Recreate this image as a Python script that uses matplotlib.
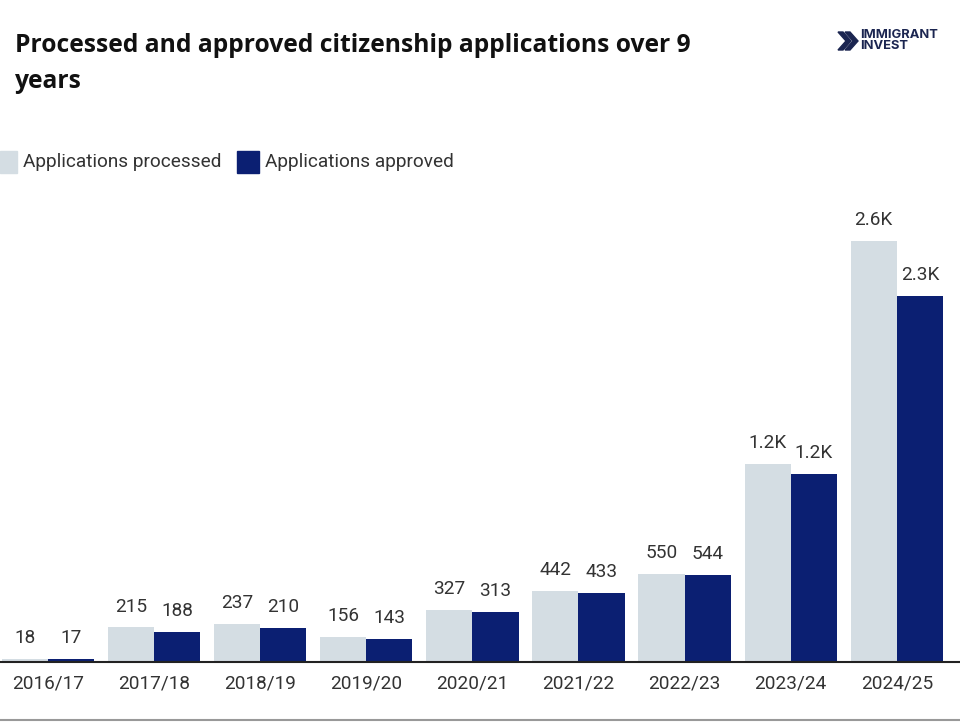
import numpy as np
import matplotlib.pyplot as plt
from matplotlib.patches import Rectangle, Polygon

# veriler
years = ["2016/17", "2017/18", "2018/19", "2019/20", "2020/21",
         "2021/22", "2022/23", "2023/24", "2024/25"]
processed = [18, 215, 237, 156, 327, 442, 550, 1245, 2645]
approved = [17, 188, 210, 143, 313, 433, 544, 1180, 2300]

c_proc = "#D4DDE3"
c_appr = "#0B1F72"
txt = "#333333"

plt.rcParams['font.family'] = ['Roboto', 'DejaVu Sans']

fig = plt.figure(figsize=(9.6, 7.22), dpi=100)
ax = fig.add_axes([0, 1 - 661.5 / 722, 1, (661.5 - 200) / 722])

x = np.arange(len(years))
w = 0.435
b1 = ax.bar(x - w / 2, processed, w, color=c_proc)
b2 = ax.bar(x + w / 2, approved, w, color=c_appr)


def fmt(v):
    return f"{v / 1000:.1f}K" if v >= 1000 else str(v)


for bars, vals in ((b1, processed), (b2, approved)):
    for b, v in zip(bars, vals):
        ax.annotate(fmt(v), (b.get_x() + b.get_width() / 2, v),
                    xytext=(0, 8.5), textcoords="offset points",
                    ha="center", va="bottom", fontsize=13.7, color=txt)

ax.set_xlim(-0.452, 8.596)
ax.set_ylim(0, 461.5 * 6.29)
ax.set_xticks(x)
ax.set_xticklabels(years, fontsize=13.7, color=txt)
ax.tick_params(axis="x", length=0, pad=9)
ax.set_yticks([])
for s in ("top", "right", "left"):
    ax.spines[s].set_visible(False)
ax.spines["bottom"].set_color("#222222")
ax.spines["bottom"].set_linewidth(1.5)

# baslik
fig.text(15 / 960, 1 - 45 / 722, "Processed and approved citizenship applications over 9",
         fontsize=17.7, fontweight="bold", color="#111111", va="center",
         family=["Open Sans", "DejaVu Sans"])
fig.text(15 / 960, 1 - 81 / 722, "years",
         fontsize=17.7, fontweight="bold", color="#111111", va="center",
         family=["Open Sans", "DejaVu Sans"])

# lejant
fig.add_artist(Rectangle((0, 1 - 173 / 722), 17 / 960, 22 / 722,
                         transform=fig.transFigure, color=c_proc))
fig.text(23 / 960, 1 - 162 / 722, "Applications processed", fontsize=13.7,
         color=txt, va="center")
fig.add_artist(Rectangle((237 / 960, 1 - 173 / 722), 22 / 960, 22 / 722,
                         transform=fig.transFigure, color=c_appr))
fig.text(265 / 960, 1 - 162 / 722, "Applications approved", fontsize=13.7,
         color=txt, va="center")

# logo
def px(xp, yp):
    return (xp / 960, 1 - yp / 722)


for dx in (0, 7):
    pts = [px(838 + dx, 32), px(843 + dx, 32), px(851 + dx, 41),
           px(843 + dx, 50), px(838 + dx, 50), px(846 + dx, 41)]
    fig.add_artist(Polygon(pts, closed=True, transform=fig.transFigure,
                           color="#1B2550"))
fig.text(860 / 960, 1 - 35 / 722, "IMMIGRANT", fontsize=9.3, fontweight="bold",
         color="#1B2550", va="center", family=["Inter", "DejaVu Sans"])
fig.text(860 / 960, 1 - 46 / 722, "INVEST", fontsize=9.3, fontweight="bold",
         color="#1B2550", va="center", family=["Inter", "DejaVu Sans"])

fig.add_artist(plt.Line2D([0, 1], [1 - 720 / 722] * 2, transform=fig.transFigure,
                          color="#999999", lw=1.5))

fig.savefig("out.png", dpi=100)
